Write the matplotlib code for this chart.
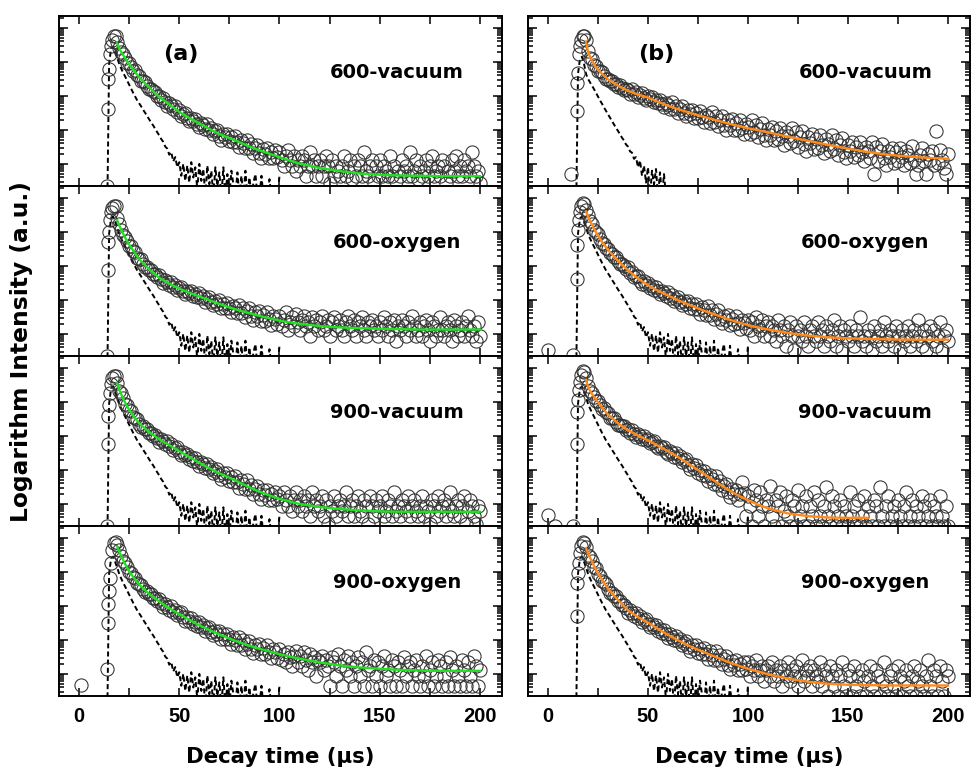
import numpy as np
import matplotlib
matplotlib.use("Agg")
import matplotlib.pyplot as plt
from matplotlib.ticker import FixedLocator, MultipleLocator, NullFormatter

plt.rcParams['font.family'] = ['Liberation Sans', 'DejaVu Sans']
plt.rcParams['font.weight'] = 'bold'
LABEL_FONT = ['DejaVu Sans']

nan = np.nan

# all intensities are log10 values (decades above the bottom of a panel)
rise_t = [13.9, 14.3, 14.6, 14.9, 15.3, 15.8, 16.5, 17.3, 18.2, 19.1]
fit_t = [19, 20, 21, 22, 23, 24, 25, 27, 30, 35, 40, 45, 50, 55, 60, 65, 70,
         75, 80, 85, 90, 95, 100, 105, 110, 120, 130, 140, 150, 160, 170,
         180, 190, 200]

# instrument response (dashed), 14..100 us and 14..60 us
irf_long = [
    -1.0, 3.60, 4.05, 4.10, 3.95, 3.78, 3.60, 3.46, 3.33, 3.22,
    3.10, 2.98, 2.86, 2.74, 2.63, 2.52, 2.43, 2.34, 2.24, 2.15,
    2.05, 1.96, 1.86, 1.78, 1.68, 1.58, 1.49, 1.38, 1.30, 1.16,
    1.10, 0.92, 1.00, 0.72, 0.85, 0.55, 0.70, 0.30, 0.65, 0.15,
    0.60, 0.10, 0.70, 0.25, 0.55, -0.1, 0.65, 0.15, 0.50, -0.3,
    0.60, 0.05, 0.45, -0.3, 0.55, 0.00, 0.40, -0.3, 0.55, -0.3,
    0.35, -0.3, 0.45, 0.05, -0.3, 0.40, -0.3, 0.30, -0.3, 0.45,
    -0.3, 0.25, -0.3, 0.10, 0.35, -0.3, -0.3, 0.30, -0.3, -0.3,
    -0.3, 0.20, -0.3, -0.3, -0.3, -0.3, 0.30]
irf_short = [
    -1.0, 3.30, 3.75, 3.80, 3.60, 3.30, 3.15, 3.05, 2.95, 2.85,
    2.74, 2.63, 2.52, 2.42, 2.31, 2.21, 2.11, 2.01, 1.91, 1.81,
    1.71, 1.62, 1.52, 1.42, 1.34, 1.22, 1.16, 1.02, 0.98, 0.80,
    0.85, 0.55, 0.75, 0.30, 0.60, 0.10, 0.55, -0.3, 0.45, 0.05,
    0.50, -0.3, 0.40, -0.3, 0.35, -0.3, -0.3]

# ---- (a) column ----
a1_pre_t, a1_pre = [], []
a1_rise = [0.00, 2.26, 3.15, 3.44, 3.88, 4.12, 4.30, 4.41, 4.41, 4.25]
a1_decay = [
    4.07, 3.93, 3.89, 3.76, 3.63, 3.61, 3.51, 3.39, 3.40, 3.26,
    3.23, 3.10, 3.09, 3.07, 2.94, 2.85, 2.86, 2.78, 2.77, 2.65,
    2.65, 2.54, 2.60, 2.48, 2.36, 2.45, 2.37, 2.26, 2.36, 2.19,
    2.24, 2.07, 2.13, 2.15, 2.00, 1.91, 2.01, 1.92, 1.97, 1.81,
    1.75, 1.86, 1.79, 1.68, 1.81, 1.65, 1.71, 1.54, 1.61, 1.65,
    1.47, 1.36, 1.54, 1.43, 1.54, 1.31, 1.44, 1.29, 1.46, 1.30,
    1.14, 1.35, 1.26, 1.11, 1.35, 1.11, 1.24, 0.98, 1.12, 1.22,
    0.97, 0.83, 1.09, 0.95, 1.11, 0.81, 0.99, 0.81, 1.05, 0.85,
    0.99, 0.77, 0.59, 0.89, 1.07, 0.77, 0.59, 0.89, 0.45, 0.77,
    0.59, 0.89, 0.77, 0.29, 0.59, 0.99, 0.59, 0.77, 0.29, 0.59,
    0.77, 0.29, 0.59, 0.89, 0.59, 0.10, 0.77, 0.29, 0.59, 0.45,
    0.29, 0.59, 0.89, 0.29, 0.45, 0.77, 0.20, 0.59, 0.29, 0.77,
    0.59, 0.29, 0.99, 0.45, 0.29, 0.59, 0.77, 0.10, 0.59, 0.29,
    0.77, 0.29, 0.59, 0.45, 0.29, 0.89, 0.29, 0.59, 0.15, 0.45,
    0.29, 0.77, 0.45, 0.59, 0.29, 0.99, 0.29, 0.45, 0.77, 0.20,
    0.59, 0.29, 0.45, 0.77, 0.29, 0.59, 0.89, 0.29, 0.45, 0.59,
    0.29, 0.77, 0.59, 0.10, 0.45, 0.29, 0.77, 0.45, 0.89, 0.29,
    0.59, 0.29, 0.77, 0.45, 0.59, 0.29, 0.99, 0.59, 0.29, 0.45,
    0.10]
a1_fit = [4.20, 4.05, 3.95, 3.85, 3.76, 3.67, 3.58, 3.42, 3.20, 2.90, 2.62,
          2.40, 2.18, 2.00, 1.84, 1.68, 1.53, 1.41, 1.29, 1.16, 1.05, 0.95,
          0.85, 0.75, 0.66, 0.53, 0.44, 0.37, 0.33, 0.31, 0.30, 0.29, 0.29,
          0.29]

a2_pre_t, a2_pre = [], []
a2_rise = [0.00, 2.53, 3.35, 3.65, 4.00, 4.24, 4.35, 4.42, 4.40, 4.05]
a2_decay = [
    3.89, 3.72, 3.56, 3.51, 3.39, 3.25, 3.24, 3.09, 3.05, 2.89,
    2.86, 2.84, 2.71, 2.62, 2.63, 2.54, 2.54, 2.42, 2.42, 2.33,
    2.37, 2.26, 2.15, 2.25, 2.17, 2.08, 2.19, 2.04, 2.10, 1.94,
    2.00, 2.04, 1.90, 1.82, 1.92, 1.84, 1.91, 1.76, 1.82, 1.73,
    1.85, 1.70, 1.77, 1.60, 1.68, 1.73, 1.58, 1.50, 1.61, 1.53,
    1.64, 1.41, 1.54, 1.40, 1.57, 1.42, 1.28, 1.47, 1.40, 1.27,
    1.51, 1.27, 1.41, 1.15, 1.31, 1.41, 1.17, 1.06, 1.28, 1.17,
    1.32, 1.03, 1.21, 1.04, 1.28, 1.09, 0.92, 1.18, 1.09, 0.93,
    1.19, 0.89, 1.07, 1.29, 0.77, 0.99, 1.14, 0.89, 1.24, 0.99,
    0.77, 1.07, 1.19, 0.89, 0.99, 0.59, 1.14, 0.89, 1.07, 0.77,
    0.99, 1.19, 0.77, 0.89, 1.07, 0.59, 0.99, 1.14, 0.77, 0.89,
    1.07, 0.77, 0.59, 0.99, 1.19, 0.89, 0.77, 1.07, 0.59, 0.99,
    0.89, 1.14, 0.77, 0.59, 0.99, 0.89, 1.07, 0.77, 0.89, 0.59,
    0.99, 0.77, 1.14, 0.89, 0.59, 0.99, 0.77, 1.07, 0.45, 0.89,
    0.77, 1.07, 0.89, 0.59, 0.99, 0.77, 1.19, 0.89, 0.59, 0.77,
    0.99, 0.59, 0.89, 1.07, 0.77, 0.45, 0.99, 0.89, 0.59, 0.77,
    1.14, 0.77, 0.59, 0.89, 0.99, 0.77, 0.45, 1.07, 0.89, 0.59,
    0.77, 0.99, 0.59, 0.89, 1.19, 0.77, 0.59, 0.89, 0.45, 0.99,
    0.59]
a2_fit = [4.00, 3.85, 3.72, 3.60, 3.48, 3.38, 3.28, 3.10, 2.85, 2.55, 2.30,
          2.13, 1.98, 1.86, 1.75, 1.64, 1.53, 1.43, 1.34, 1.26, 1.18, 1.11,
          1.04, 0.99, 0.95, 0.88, 0.84, 0.82, 0.80, 0.79, 0.78, 0.78, 0.78,
          0.78]

a3_pre_t, a3_pre = [], []
a3_rise = [0.00, 2.40, 3.24, 3.57, 3.90, 4.17, 4.35, 4.42, 4.40, 4.20]
a3_decay = [
    3.98, 3.91, 3.76, 3.60, 3.57, 3.41, 3.37, 3.21, 3.18, 3.15,
    3.00, 2.92, 2.94, 2.85, 2.85, 2.73, 2.74, 2.66, 2.67, 2.59,
    2.47, 2.57, 2.49, 2.40, 2.50, 2.35, 2.40, 2.24, 2.29, 2.32,
    2.17, 2.08, 2.17, 2.08, 2.13, 1.97, 2.03, 1.92, 2.00, 1.88,
    1.77, 1.88, 1.81, 1.70, 1.83, 1.67, 1.73, 1.56, 1.63, 1.67,
    1.49, 1.37, 1.56, 1.44, 1.56, 1.32, 1.44, 1.29, 1.46, 1.30,
    1.13, 1.34, 1.24, 1.10, 1.34, 1.09, 1.21, 0.95, 1.09, 1.19,
    0.93, 0.79, 1.05, 0.90, 1.06, 0.76, 0.94, 0.76, 1.00, 0.80,
    0.89, 0.59, 0.99, 0.77, 0.59, 0.89, 0.45, 0.77, 0.99, 0.59,
    0.77, 0.45, 0.89, 0.59, 0.77, 0.29, 0.99, 0.59, 0.77, 0.45,
    0.59, 0.89, 0.29, 0.77, 0.05, 0.59, 0.45, 0.89, 0.29, 0.59,
    0.77, 0.45, 0.59, 0.99, 0.29, 0.59, 0.77, 0.29, 0.59, 0.89,
    0.45, 0.29, 0.77, 0.59, 0.05, 0.89, 0.59, 0.29, 0.77, 0.45,
    0.59, 0.89, 0.29, 0.45, 0.77, 0.59, 0.29, 0.99, 0.45, 0.59,
    0.29, 0.77, 0.59, 0.45, 0.89, 0.29, 0.59, 0.77, 0.45, 0.29,
    0.59, 0.89, 0.29, 0.59, 0.45, 0.05, 0.77, 0.59, 0.29, 0.89,
    0.45, 0.59, 0.77, 0.29, 0.59, 0.99, 0.45, 0.29, 0.59, 0.77,
    0.29, 0.59, 0.89, 0.05, 0.45, 0.77, 0.59, 0.29, 0.05, 0.59,
    0.45]
a3_fit = [4.20, 4.02, 3.88, 3.75, 3.63, 3.52, 3.42, 3.25, 3.02, 2.76, 2.55,
          2.38, 2.20, 2.03, 1.86, 1.70, 1.55, 1.42, 1.28, 1.14, 1.01, 0.90,
          0.80, 0.72, 0.65, 0.56, 0.50, 0.46, 0.43, 0.42, 0.42, 0.42, 0.42,
          0.42]

a4_pre_t, a4_pre = [0.8], [0.32]
a4_rise = [0.80, 2.15, 2.70, 3.09, 3.47, 3.90, 4.30, 4.50, 4.52, 4.45]
a4_decay = [
    4.29, 4.12, 3.96, 3.91, 3.78, 3.64, 3.63, 3.49, 3.46, 3.31,
    3.29, 3.27, 3.15, 3.06, 3.08, 2.99, 3.00, 2.88, 2.89, 2.80,
    2.85, 2.73, 2.62, 2.71, 2.63, 2.53, 2.64, 2.48, 2.54, 2.37,
    2.43, 2.46, 2.31, 2.22, 2.31, 2.22, 2.28, 2.12, 2.17, 2.07,
    2.18, 2.02, 2.08, 1.92, 1.99, 2.03, 1.87, 1.79, 1.90, 1.82,
    1.92, 1.69, 1.81, 1.67, 1.83, 1.68, 1.54, 1.73, 1.64, 1.51,
    1.75, 1.51, 1.64, 1.38, 1.53, 1.63, 1.39, 1.27, 1.50, 1.38,
    1.53, 1.23, 1.42, 1.24, 1.49, 1.29, 1.11, 1.38, 1.28, 1.13,
    1.37, 1.07, 1.24, 0.99, 1.29, 1.14, 0.89, 1.19, 1.33, 0.99,
    1.19, 0.89, 1.29, 1.07, 0.77, 1.24, 0.99, 1.14, 0.59, 1.07,
    0.99, 1.19, 0.77, 1.07, 0.89, 0.29, 1.14, 0.99, 0.59, 1.24,
    0.89, 0.29, 1.07, 0.77, 1.19, 0.59, 0.99, 0.29, 0.89, 1.14,
    0.59, 0.99, 0.29, 1.29, 0.77, 0.89, 0.29, 1.07, 0.59, 0.99,
    0.29, 0.89, 1.19, 0.59, 0.77, 0.29, 1.07, 0.89, 0.29, 0.99,
    0.77, 0.29, 1.14, 0.59, 0.89, 0.99, 0.29, 0.77, 1.07, 0.59,
    0.29, 0.89, 0.59, 1.19, 0.29, 0.77, 0.99, 0.29, 0.59, 1.07,
    0.89, 0.29, 0.59, 0.99, 0.29, 1.14, 0.77, 0.29, 0.89, 0.59,
    0.29, 1.07, 0.77, 0.29, 0.99, 0.59, 0.29, 1.19, 0.89, 0.29,
    0.77]
a4_fit = [4.40, 4.25, 4.12, 4.00, 3.88, 3.77, 3.67, 3.50, 3.28, 3.00, 2.78,
          2.58, 2.41, 2.24, 2.08, 1.94, 1.81, 1.69, 1.58, 1.48, 1.39, 1.31,
          1.23, 1.16, 1.10, 0.99, 0.90, 0.84, 0.80, 0.77, 0.75, 0.74, 0.74,
          0.74]

# ---- (b) column ----
b1_pre_t, b1_pre = [11.3], [0.35]
b1_rise = [nan, 2.20, 3.04, 3.33, 3.87, 4.12, 4.30, 4.41, 4.40, 4.28]
b1_decay = [
    3.96, 3.77, 3.73, 3.57, 3.52, 3.38, 3.37, 3.35, 3.23, 3.14,
    3.16, 3.09, 3.10, 2.99, 3.01, 2.92, 2.97, 2.88, 2.81, 2.86,
    2.81, 2.72, 2.86, 2.70, 2.77, 2.61, 2.69, 2.74, 2.60, 2.52,
    2.64, 2.56, 2.62, 2.46, 2.53, 2.43, 2.54, 2.42, 2.32, 2.43,
    2.37, 2.26, 2.46, 2.26, 2.36, 2.15, 2.27, 2.35, 2.15, 2.05,
    2.24, 2.12, 2.25, 2.00, 2.15, 2.00, 2.20, 2.03, 1.88, 2.10,
    2.02, 1.86, 2.17, 1.89, 2.06, 1.76, 1.94, 2.07, 1.79, 1.66,
    1.93, 1.79, 1.96, 1.65, 1.85, 1.66, 1.94, 1.72, 1.53, 1.82,
    1.73, 1.54, 1.93, 1.58, 1.80, 1.44, 1.68, 1.84, 1.50, 1.34,
    1.69, 1.51, 1.75, 1.34, 1.61, 1.37, 1.72, 1.46, 1.22, 1.60,
    1.48, 1.26, 1.72, 1.32, 1.58, 1.15, 1.44, 1.63, 1.23, 1.04,
    1.45, 1.26, 1.52, 1.08, 1.37, 1.12, 1.50, 1.22, 0.96, 1.37,
    1.24, 1.02, 1.49, 1.09, 1.34, 0.91, 1.20, 1.40, 1.00, 0.81,
    1.22, 1.03, 1.29, 0.86, 1.15, 0.90, 1.28, 1.00, 0.75, 1.16,
    1.03, 0.81, 1.29, 0.35, 1.16, 0.73, 1.02, 1.24, 0.81, 0.63,
    1.04, 0.85, 1.12, 0.69, 0.99, 0.74, 1.13, 0.85, 0.61, 1.03,
    0.90, 0.69, 1.17, 0.77, 0.35, 0.61, 0.91, 1.12, 0.73, 0.35,
    0.95, 0.77, 1.04, 0.61, 1.62, 0.67, 1.06, 0.77, 0.53, 0.35,
    0.95]
b1_fit = [4.25, 3.95, 3.80, 3.68, 3.58, 3.49, 3.42, 3.30, 3.14, 2.95, 2.80,
          2.69, 2.60, 2.48, 2.36, 2.26, 2.17, 2.08, 2.00, 1.92, 1.84, 1.77,
          1.70, 1.64, 1.58, 1.45, 1.33, 1.21, 1.10, 1.00, 0.92, 0.87, 0.83,
          0.80]

b2_pre_t, b2_pre = [0.0, 12.5], [0.17, 0.02]
b2_rise = [nan, 2.27, 3.26, 3.70, 4.00, 4.24, 4.42, 4.50, 4.48, 4.30]
b2_decay = [
    4.15, 3.97, 3.89, 3.71, 3.65, 3.59, 3.43, 3.31, 3.30, 3.19,
    3.16, 3.03, 3.01, 2.91, 2.90, 2.80, 2.70, 2.72, 2.64, 2.55,
    2.61, 2.44, 2.47, 2.31, 2.35, 2.36, 2.20, 2.11, 2.20, 2.10,
    2.14, 1.99, 2.05, 1.94, 2.02, 1.91, 1.81, 1.91, 1.85, 1.76,
    1.88, 1.72, 1.78, 1.62, 1.69, 1.73, 1.58, 1.49, 1.61, 1.52,
    1.63, 1.40, 1.52, 1.38, 1.54, 1.39, 1.25, 1.44, 1.35, 1.22,
    1.46, 1.22, 1.35, 1.09, 1.24, 1.34, 1.10, 0.98, 1.19, 1.07,
    1.22, 0.92, 1.10, 0.93, 1.17, 0.97, 0.79, 1.06, 0.96, 0.81,
    1.07, 0.77, 0.99, 0.59, 1.14, 0.89, 0.77, 1.07, 0.59, 0.89,
    0.99, 0.59, 0.89, 0.77, 0.45, 1.07, 0.77, 0.59, 0.89, 0.29,
    0.77, 0.99, 0.59, 0.17, 0.89, 0.59, 0.77, 0.45, 0.99, 0.59,
    0.29, 0.77, 0.89, 0.59, 0.45, 0.99, 0.59, 0.77, 0.29, 0.89,
    0.59, 0.45, 0.77, 1.07, 0.29, 0.59, 0.89, 0.17, 0.77, 0.59,
    0.45, 0.89, 0.59, 0.29, 0.77, 0.59, 1.14, 0.45, 0.59, 0.29,
    0.77, 0.59, 0.17, 0.89, 0.45, 0.59, 0.77, 0.29, 0.99, 0.59,
    0.45, 0.77, 0.59, 0.29, 0.89, 0.59, 0.17, 0.77, 0.45, 0.59,
    0.89, 0.29, 0.59, 0.77, 0.45, 1.07, 0.59, 0.29, 0.77, 0.17,
    0.59, 0.89, 0.45, 0.77, 0.29, 0.59, 0.99, 0.17, 0.59, 0.77,
    0.45]
b2_fit = [4.25, 4.10, 3.98, 3.86, 3.75, 3.64, 3.54, 3.36, 3.12, 2.80, 2.52,
          2.28, 2.08, 1.92, 1.78, 1.64, 1.52, 1.40, 1.29, 1.19, 1.08, 0.99,
          0.91, 0.84, 0.78, 0.68, 0.60, 0.55, 0.52, 0.50, 0.49, 0.48, 0.48,
          0.48]

b3_pre_t, b3_pre = [0.0, 3.3, 12.5], [0.32, 0.0, 0.0]
b3_rise = [nan, 2.42, 3.35, 3.70, 4.00, 4.24, 4.45, 4.55, 4.52, 4.35]
b3_decay = [
    4.12, 3.96, 3.92, 3.80, 3.68, 3.67, 3.57, 3.45, 3.46, 3.34,
    3.31, 3.19, 3.19, 3.17, 3.05, 2.97, 2.96, 2.93, 2.94, 2.83,
    2.84, 2.75, 2.82, 2.71, 2.62, 2.70, 2.64, 2.55, 2.66, 2.53,
    2.57, 2.43, 2.48, 2.49, 2.36, 2.28, 2.36, 2.28, 2.32, 2.17,
    2.11, 2.22, 2.14, 2.04, 2.16, 2.00, 2.05, 1.87, 1.94, 1.97,
    1.79, 1.67, 1.81, 1.70, 1.78, 1.56, 1.65, 1.51, 1.63, 1.48,
    1.31, 1.49, 1.39, 1.24, 1.46, 1.21, 1.32, 1.05, 1.18, 1.25,
    0.99, 0.84, 1.08, 0.93, 1.07, 0.76, 0.93, 1.29, 0.98, 0.29,
    0.89, 0.59, 0.00, 1.07, 0.77, 0.29, 0.99, 0.59, 0.00, 0.77,
    0.59, 1.19, 0.29, 0.00, 0.77, 0.59, 0.99, 0.00, 0.45, 0.89,
    0.29, 0.00, 0.77, 0.59, 0.00, 1.07, 0.29, 0.59, 0.00, 0.89,
    0.00, 0.59, 0.29, 0.99, 0.00, 0.77, 0.29, 0.00, 0.59, 1.14,
    0.29, 0.00, 0.89, 0.59, 0.00, 0.29, 0.77, 0.00, 0.59, 0.29,
    0.00, 0.99, 0.29, 0.59, 0.00, 0.77, 0.00, 0.29, 0.89, 0.00,
    0.59, 0.29, 0.00, 0.77, 0.59, 0.00, 1.14, 0.29, 0.00, 0.59,
    0.89, 0.00, 0.29, 0.59, 0.00, 0.77, 0.29, 0.00, 0.59, 0.99,
    0.00, 0.29, 0.77, 0.00, 0.59, 0.29, 0.00, 0.89, 0.59, 0.00,
    0.29, 0.77, 0.00, 0.59, 0.29, 0.00, 0.89, 0.29, 0.00, 0.59,
    0.00]
b3_fit = [4.30, 4.10, 3.98, 3.88, 3.80, 3.72, 3.64, 3.48, 3.28, 3.02, 2.82,
          2.66, 2.52, 2.36, 2.20, 2.03, 1.84, 1.65, 1.45, 1.26, 1.07, 0.90,
          0.76, 0.63, 0.52, 0.37, 0.29, 0.25, 0.24, 0.24, nan, nan, nan, nan]

b4_pre_t, b4_pre = [], []
b4_rise = [nan, 2.35, 3.32, 3.62, 3.90, 4.20, 4.42, 4.52, 4.50, 4.38]
b4_decay = [
    4.16, 4.10, 3.96, 3.80, 3.77, 3.60, 3.54, 3.38, 3.34, 3.30,
    3.14, 3.04, 3.04, 2.95, 2.93, 2.79, 2.78, 2.68, 2.68, 2.58,
    2.44, 2.53, 2.45, 2.35, 2.45, 2.29, 2.35, 2.19, 2.24, 2.27,
    2.13, 2.03, 2.12, 2.03, 2.08, 1.91, 1.97, 1.86, 1.94, 1.82,
    1.71, 1.82, 1.75, 1.64, 1.77, 1.61, 1.67, 1.50, 1.57, 1.61,
    1.43, 1.31, 1.50, 1.38, 1.50, 1.26, 1.39, 1.24, 1.41, 1.25,
    1.09, 1.31, 1.21, 1.07, 1.31, 1.07, 1.20, 0.93, 1.08, 1.17,
    0.92, 0.78, 1.04, 0.90, 1.06, 0.76, 0.94, 0.76, 1.00, 0.80,
    0.99, 0.59, 0.89, 0.77, 1.07, 0.59, 0.77, 0.89, 0.45, 0.77,
    0.89, 0.59, 0.99, 0.45, 0.77, 0.59, 0.89, 0.29, 0.77, 0.59,
    0.99, 0.45, 0.77, 0.59, 0.89, 0.29, 0.59, 1.07, 0.45, 0.77,
    0.59, 0.89, 0.29, 0.77, 0.59, 0.45, 0.99, 0.29, 0.77, 0.59,
    0.00, 0.89, 0.59, 0.29, 0.77, 0.00, 0.59, 0.99, 0.29, 0.00,
    0.77, 0.59, 0.00, 0.89, 0.29, 0.59, 0.00, 0.77, 0.45, 0.00,
    0.59, 0.89, 0.29, 0.00, 0.77, 0.59, 0.00, 0.45, 0.99, 0.29,
    0.00, 0.59, 0.77, 0.29, 0.00, 0.89, 0.59, 0.00, 0.45, 0.77,
    0.29, 0.00, 0.59, 0.89, 0.00, 0.45, 0.77, 0.29, 0.00, 0.59,
    1.07, 0.29, 0.00, 0.77, 0.59, 0.00, 0.89, 0.45, 0.00, 0.77,
    0.59]
b4_fit = [4.35, 4.20, 4.07, 3.95, 3.83, 3.72, 3.61, 3.42, 3.16, 2.82, 2.52,
          2.32, 2.16, 1.97, 1.80, 1.64, 1.49, 1.36, 1.24, 1.12, 1.00, 0.90,
          0.80, 0.72, 0.64, 0.51, 0.42, 0.36, 0.33, 0.32, 0.31, 0.31, 0.31,
          0.31]

labels = ['600-vacuum', '600-oxygen', '900-vacuum', '900-oxygen']
columns = [
    ('(a)', '#22e022', irf_long,
     [(a1_pre_t, a1_pre, a1_rise, a1_decay, a1_fit),
      (a2_pre_t, a2_pre, a2_rise, a2_decay, a2_fit),
      (a3_pre_t, a3_pre, a3_rise, a3_decay, a3_fit),
      (a4_pre_t, a4_pre, a4_rise, a4_decay, a4_fit)]),
    ('(b)', '#ff8a1c', irf_long,
     [(b1_pre_t, b1_pre, b1_rise, b1_decay, b1_fit),
      (b2_pre_t, b2_pre, b2_rise, b2_decay, b2_fit),
      (b3_pre_t, b3_pre, b3_rise, b3_decay, b3_fit),
      (b4_pre_t, b4_pre, b4_rise, b4_decay, b4_fit)]),
]

W, H = 973, 772
fig = plt.figure(figsize=(W / 100, H / 100), dpi=100)

col_left = [59, 528]
col_width = [443, 442]
row_top, row_h = 16, 170

major_y = [10 ** (k + 0.65) for k in range(-1, 6)]
minor_y = [m * v for v in major_y for m in range(2, 10)]

for c, (tag, fit_color, irf, rows) in enumerate(columns):
    for r, (pre_t, pre, rise, decay, fit) in enumerate(rows):
        y0 = 1 - (row_top + row_h * (r + 1)) / H
        ax = fig.add_axes([col_left[c] / W, y0, col_width[c] / W, row_h / H])

        irf_vals = irf_short if (c == 1 and r == 0) else irf
        irf_t = 14 + np.arange(len(irf_vals))
        ax.plot(irf_t, 10 ** np.array(irf_vals), color='black', lw=1.4,
                dashes=(2.6, 1.6))

        t_all = np.concatenate([pre_t, rise_t, 20 + np.arange(len(decay))])
        d_all = np.concatenate([pre, rise, decay])
        ax.plot(t_all, 10 ** d_all, 'o', ms=9.5, mfc='none', mec='#303030',
                mew=0.75)

        ax.plot(fit_t, 10 ** np.array(fit), color=fit_color, lw=1.7)

        ax.set_yscale('log')
        ax.set_xlim(-10, 211)
        ax.set_ylim(1, 1e5)
        ax.yaxis.set_major_locator(FixedLocator(major_y))
        ax.yaxis.set_minor_locator(FixedLocator(minor_y))
        ax.yaxis.set_major_formatter(NullFormatter())
        ax.yaxis.set_minor_formatter(NullFormatter())
        ax.xaxis.set_major_locator(MultipleLocator(50))
        ax.xaxis.set_minor_locator(MultipleLocator(25))

        ax.tick_params(axis='both', which='both', direction='in',
                       top=True, right=True, width=1.1)
        ax.tick_params(axis='x', which='both', length=5.5)
        ax.tick_params(axis='y', which='major', length=6.5)
        ax.tick_params(axis='y', which='minor', length=3.5)
        ax.tick_params(axis='x', labelsize=14.5, pad=8,
                       labelbottom=(r == 3))
        for lab in ax.get_xticklabels():
            lab.set_fontweight('bold')
        for sp in ax.spines.values():
            sp.set_linewidth(1.4)

        ax.text(0.763, 0.635, labels[r], transform=ax.transAxes,
                ha='center', va='baseline', fontsize=14, fontweight='bold',
                family=LABEL_FONT)
        if r == 0:
            ax.text(0.276 if c == 0 else 0.29, 0.776, tag,
                    transform=ax.transAxes, ha='center', va='center',
                    fontsize=16, fontweight='bold', family=LABEL_FONT)
        if r == 3:
            cx = (col_left[c] + col_width[c] / 2) / W
            fig.text(cx, 1 - 757 / H, 'Decay time (\u03bcs)', ha='center',
                     va='center', fontsize=15.3, fontweight='bold',
                     family=LABEL_FONT)

fig.text(22 / W, 1 - 352 / H, 'Logarithm Intensity (a.u.)', rotation=90,
         ha='center', va='center', fontsize=16.8, fontweight='bold',
         family=LABEL_FONT)

fig.savefig('out.png', dpi=100)
